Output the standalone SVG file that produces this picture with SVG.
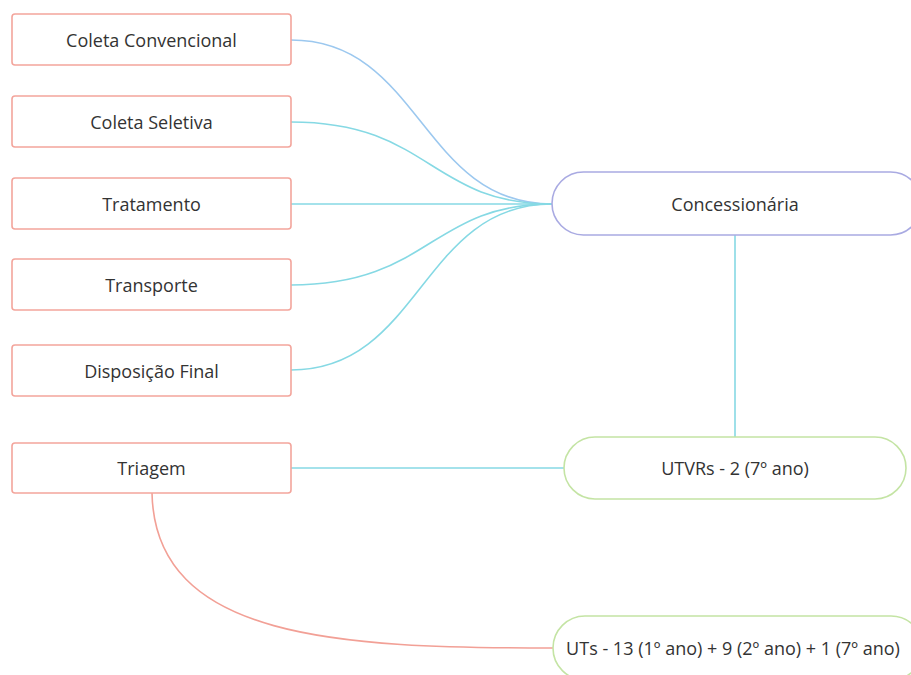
<svg xmlns="http://www.w3.org/2000/svg" width="911" height="675" viewBox="0 0 911 675">
  <style>
    .task rect { fill: #ffffff; stroke: #f3a59c; stroke-width: 1.6; }
    .hub rect { fill: #ffffff; stroke: #a9aae2; stroke-width: 1.6; }
    .unit rect { fill: #ffffff; stroke: #c4e4a4; stroke-width: 1.6; }
    text { font-family: "Open Sans", "Noto Sans", "Liberation Sans", sans-serif; font-size: 18px; fill: #333333; text-anchor: middle; dominant-baseline: central; }
    .links path { fill: none; stroke-width: 1.6; }
    .cyan { stroke: #86d9e4; }
    .blue { stroke: #9cc8ef; }
    .red { stroke: #f2a096; }
  </style>
  <rect width="911" height="675" fill="#ffffff"/>

  <!-- connectors -->
  <g class="links">
    <path class="blue" d="M291,40 C421,40 421,204 552,204"/>
    <path class="cyan" d="M291,122 C430,122 430,204 552,204"/>
    <path class="cyan" d="M291,204 L552,204"/>
    <path class="cyan" d="M291,285 C430,285 430,204 552,204"/>
    <path class="cyan" d="M291,370 C421,370 421,204 552,204"/>
    <path class="cyan" d="M735,235 L735,437"/>
    <path class="cyan" d="M291,468 L564,468"/>
    <path class="red" d="M152,493 C155,640 340,648 553,648"/>
  </g>

  <!-- task boxes -->
  <g id="coleta-convencional" class="task">
    <rect x="12" y="14" width="279" height="51" rx="3"/>
    <text x="151.5" y="40">Coleta Convencional</text>
  </g>
  <g id="coleta-seletiva" class="task">
    <rect x="12" y="96" width="279" height="51" rx="3"/>
    <text x="151.5" y="122">Coleta Seletiva</text>
  </g>
  <g id="tratamento" class="task">
    <rect x="12" y="178" width="279" height="51" rx="3"/>
    <text x="151.5" y="204">Tratamento</text>
  </g>
  <g id="transporte" class="task">
    <rect x="12" y="259" width="279" height="51" rx="3"/>
    <text x="151.5" y="285">Transporte</text>
  </g>
  <g id="disposicao-final" class="task">
    <rect x="12" y="345" width="279" height="51" rx="3"/>
    <text x="151.5" y="371">Disposição Final</text>
  </g>
  <g id="triagem" class="task">
    <rect x="12" y="443" width="279" height="50" rx="3"/>
    <text x="151.5" y="468">Triagem</text>
  </g>

  <!-- operators and units -->
  <g id="concessionaria" class="hub">
    <rect x="552" y="172" width="370" height="63" rx="31.5"/>
    <text x="735" y="204">Concessionária</text>
  </g>
  <g id="utvrs" class="unit">
    <rect x="564" y="437" width="342" height="62" rx="31"/>
    <text x="735" y="468">UTVRs - 2 (7º ano)</text>
  </g>
  <g id="uts" class="unit">
    <rect x="553" y="616" width="370" height="64" rx="32"/>
    <text x="733" y="648">UTs - 13 (1º ano) + 9 (2º ano) + 1 (7º ano)</text>
  </g>
</svg>
